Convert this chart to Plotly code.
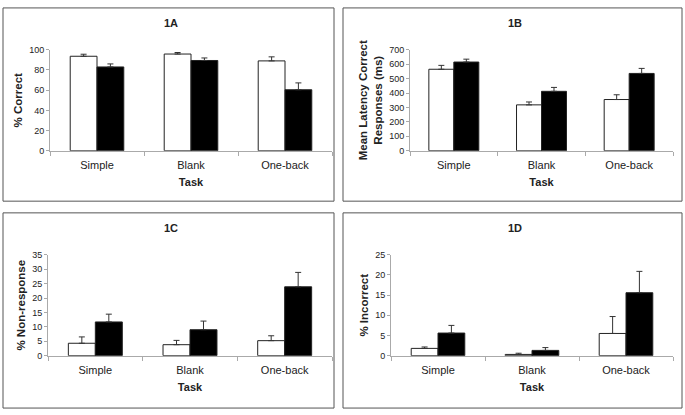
import plotly.graph_objects as go

tasks = ["Simple", "Blank", "One-back"]

# Panel 1A: % Correct
a_white = [93.6, 95.8, 89.0]
a_white_err = [2.0, 1.5, 4.0]
a_black = [83.0, 89.4, 60.4]
a_black_err = [3.0, 2.5, 6.8]

# Panel 1B: Mean latency correct responses (ms)
b_white = [565, 318, 355]
b_white_err = [27, 20, 33]
b_black = [615, 412, 536]
b_black_err = [20, 27, 35]

# Panel 1C: % Non-response
c_white = [4.3, 3.8, 5.2]
c_white_err = [2.2, 1.5, 1.7]
c_black = [11.7, 9.0, 23.9]
c_black_err = [2.7, 3.0, 5.0]

# Panel 1D: % Incorrect
d_white = [1.8, 0.3, 5.5]
d_white_err = [0.35, 0.3, 4.2]
d_black = [5.6, 1.3, 15.6]
d_black_err = [1.9, 0.7, 5.3]

panels = [
    dict(name="1A", white=a_white, we=a_white_err, black=a_black, be=a_black_err,
         yt="<b>% Correct</b>", rng=[0, 100], dt=20),
    dict(name="1B", white=b_white, we=b_white_err, black=b_black, be=b_black_err,
         yt="<b>Mean Latency Correct<br>Responses (ms)</b>", rng=[0, 700], dt=100),
    dict(name="1C", white=c_white, we=c_white_err, black=c_black, be=c_black_err,
         yt="<b>% Non-response</b>", rng=[0, 35], dt=5),
    dict(name="1D", white=d_white, we=d_white_err, black=d_black, be=d_black_err,
         yt="<b>% Incorrect</b>", rng=[0, 25], dt=5),
]

W, H = 685, 415

def px(x):
    return x / W

def py(y):
    return 1 - y / H

# x domains (pixels), y domains (pixels: bottom zero, top)
xdoms = [(50, 332), (410, 673), (48, 332), (391, 673)]
ydoms = [(149.3, 45.9), (149.3, 45.9), (359.3, 256), (359.3, 256)]
boxes = [(3, 3, 334, 201), (343, 3, 682, 201), (3, 213, 334, 413), (343, 213, 682, 413)]

fig = go.Figure()
font_family = "Liberation Sans, Arial, sans-serif"

layout = dict(
    width=W, height=H,
    margin=dict(l=0, r=0, t=0, b=0),
    paper_bgcolor="white", plot_bgcolor="white",
    showlegend=False,
    bargap=0.43, bargroupgap=0,
    barmode="group",
    font=dict(family=font_family, color="#222"),
    shapes=[], annotations=[],
)

for i, p in enumerate(panels):
    k = "" if i == 0 else str(i + 1)
    xa, ya = "x" + k, "y" + k
    err_style = dict(type="data", symmetric=False, arrayminus=[0, 0, 0],
                     color="#333", thickness=1, width=3)
    fig.add_trace(go.Bar(x=tasks, y=p["white"], xaxis=xa, yaxis=ya,
                         marker=dict(color="white", line=dict(color="#222", width=1)),
                         error_y=dict(array=p["we"], **err_style), offsetgroup="w"))
    fig.add_trace(go.Bar(x=tasks, y=p["black"], xaxis=xa, yaxis=ya,
                         marker=dict(color="black", line=dict(color="#222", width=1)),
                         error_y=dict(array=p["be"], **err_style), offsetgroup="b"))
    x0, x1 = xdoms[i]
    yb, yt = ydoms[i]
    layout["xaxis" + k] = dict(
        domain=[px(x0), px(x1)], anchor=ya, type="category",
        showline=True, linecolor="#aaa", linewidth=1,
        ticks="outside", tickson="boundaries", ticklen=4, tickcolor="#aaa",
        ticklabelstandoff=4,
        showgrid=False, tickfont=dict(size=11, color="#222"),
        title=dict(text="<b>Task</b>", font=dict(size=11, color="#222"), standoff=8),
        fixedrange=True,
    )
    layout["yaxis" + k] = dict(
        domain=[py(yb), py(yt)], anchor=xa, range=p["rng"], dtick=p["dt"],
        showline=True, linecolor="#aaa", linewidth=1,
        ticks="outside", ticklen=3, tickcolor="#aaa",
        showgrid=False, zeroline=False, tickfont=dict(size=9, color="#222"),
        title=dict(text=p["yt"], font=dict(size=11.5, color="#222"), standoff=4),
        fixedrange=True,
    )
    bx0, by0, bx1, by1 = boxes[i]
    layout["shapes"].append(dict(type="rect", xref="paper", yref="paper",
                                 x0=px(bx0), x1=px(bx1), y0=py(by1), y1=py(by0),
                                 line=dict(color="#555", width=1)))
    layout["annotations"].append(dict(text="<b>" + p["name"] + "</b>", xref="paper", yref="paper",
                                      x=px((bx0 + bx1) / 2 + 2), y=py(by0 + 15), showarrow=False,
                                      font=dict(size=11, color="#222"), xanchor="center", yanchor="middle"))

fig.update_layout(**layout)
fig.write_html("out.html", config={"displayModeBar": False},
               post_script="document.body.style.margin='0';")
